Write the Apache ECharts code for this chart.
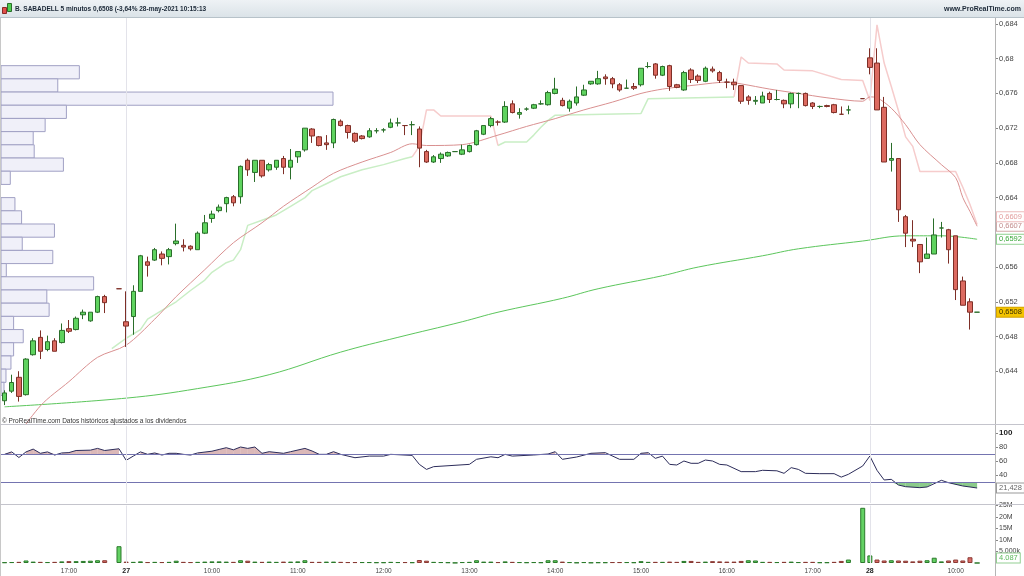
<!DOCTYPE html>
<html><head><meta charset="utf-8">
<script src="https://cdn.jsdelivr.net/npm/echarts@6/dist/echarts.min.js"></script>
<style>html,body{margin:0;padding:0;background:#fff}#c{width:1024px;height:576px}</style>
</head><body><div id="c"></div>
<script>
// ---------- DATA ----------
// bars: [open, high, low, close]; null = no trade in that 5-min bar
const day26Bars = [
[0.6406,0.6418,0.6401,0.6415],[0.6417,0.6436,0.6415,0.6427],[0.6433,0.6440,0.6405,0.6411],[0.6413,0.6455,0.6412,0.6454],
[0.6459,0.6478,0.6458,0.6475],[0.6479,0.6487,0.6454,0.6463],[0.6465,0.6481,0.6463,0.6474],[0.6475,0.6478,0.6463,0.6463],
[0.6473,0.6495,0.6472,0.6487],[0.6489,0.6499,0.6484,0.6486],[0.6488,0.6503,0.6487,0.6501],[0.6505,0.6511,0.6500,0.6508],
[0.6498,0.6508,0.6497,0.6508],[0.6508,0.6527,0.6507,0.6526],[0.6526,0.6528,0.6507,0.6519],null,[0.6535,0.6535,0.6535,0.6535]
];
const day27Bars = [
[0.6497,0.6532,0.6468,0.6492],[0.6503,0.6539,0.6482,0.6532],[0.6532,0.6574,0.6532,0.6573],[0.6566,0.6572,0.6549,0.6562],
[0.6568,0.6582,0.6567,0.6580],[0.6575,0.6578,0.6562,0.6570],[0.6572,0.6582,0.6563,0.6580],[0.6587,0.6610,0.6585,0.6590],
[0.6585,0.6592,0.6578,0.6583],[0.6584,0.6585,0.6579,0.6581],[0.6580,0.6601,0.6580,0.6599],[0.6599,0.6620,0.6598,0.6611],
[0.6616,0.6625,0.6611,0.6621],[0.6625,0.6632,0.6623,0.6629],[0.6633,0.6641,0.6623,0.6640],[0.6641,0.6643,0.6630,0.6634],
[0.6641,0.6677,0.6633,0.6676],[0.6683,0.6685,0.6665,0.6672],[0.6669,0.6683,0.6658,0.6683],[0.6683,0.6683,0.6663,0.6665],
[0.6672,0.6680,0.6670,0.6678],[0.6675,0.6683,0.6672,0.6683],[0.6685,0.6688,0.6667,0.6675],[0.6675,0.6696,0.6661,0.6683],
[0.6687,0.6693,0.6680,0.6693],[0.6695,0.6720,0.6693,0.6720],[0.6719,0.6720,0.6703,0.6711],[0.6710,0.6711,0.6699,0.6700],
[0.6703,0.6712,0.6695,0.6701],[0.6703,0.6731,0.6697,0.6730],[0.6728,0.6730,0.6722,0.6723],[0.6723,0.6724,0.6708,0.6715],
[0.6714,0.6715,0.6703,0.6705],[0.6711,0.6712,0.6707,0.6708],[0.6710,0.6720,0.6709,0.6717],[0.6717,0.6720,0.6714,0.6717],
[0.6718,0.6720,0.6715,0.6718],[0.6721,0.6731,0.6720,0.6726],[0.6726,0.6732,0.6722,0.6726],[0.6723,0.6723,0.6712,0.6723],
[0.6724,0.6728,0.6712,0.6724],[0.6719,0.6722,0.6675,0.6697],[0.6693,0.6695,0.6680,0.6681],[0.6681,0.6689,0.6680,0.6687],
[0.6685,0.6692,0.6680,0.6690],[0.6688,0.6693,0.6687,0.6692],[0.6693,0.6693,0.6693,0.6693],[0.6690,0.6701,0.6689,0.6695],
[0.6693,0.6701,0.6692,0.6700],[0.6701,0.6718,0.6700,0.6717],[0.6713,0.6723,0.6712,0.6723],[0.6723,0.6733,0.6721,0.6731],
[0.6727,0.6729,0.6723,0.6727],[0.6727,0.6751,0.6726,0.6745],[0.6748,0.6752,0.6737,0.6738],[0.6736,0.6743,0.6731,0.6738],
[0.6742,0.6744,0.6740,0.6742],[0.6743,0.6748,0.6742,0.6747],[0.6748,0.6752,0.6747,0.6748],[0.6747,0.6763,0.6746,0.6761],
[0.6760,0.6778,0.6759,0.6765],[0.6752,0.6755,0.6745,0.6746],[0.6743,0.6753,0.6739,0.6751],[0.6749,0.6768,0.6746,0.6756],
[0.6758,0.6770,0.6757,0.6764],[0.6771,0.6774,0.6770,0.6774],[0.6771,0.6786,0.6770,0.6777],[0.6779,0.6782,0.6770,0.6777],
[0.6777,0.6779,0.6766,0.6771],[0.6770,0.6772,0.6762,0.6764],[0.6766,0.6776,0.6766,0.6766],[0.6768,0.6772,0.6764,0.6766],
[0.6770,0.6789,0.6768,0.6789],[0.6791,0.6796,0.6789,0.6791],[0.6794,0.6795,0.6777,0.6781],[0.6781,0.6792,0.6780,0.6791],
[0.6792,0.6793,0.6763,0.6768],[0.6770,0.6771,0.6766,0.6767],[0.6764,0.6786,0.6763,0.6784],[0.6787,0.6789,0.6772,0.6776],
[0.6780,0.6782,0.6772,0.6775],[0.6774,0.6791,0.6773,0.6789],[0.6788,0.6791,0.6784,0.6786],[0.6784,0.6786,0.6772,0.6775],
[0.6773,0.6777,0.6766,0.6773],[0.6773,0.6777,0.6764,0.6770],[0.6769,0.6769,0.6748,0.6751],[0.6756,0.6758,0.6747,0.6752],
[0.6751,0.6757,0.6747,0.6752],[0.6749,0.6762,0.6749,0.6757],[0.6760,0.6762,0.6749,0.6753],[0.6753,0.6764,0.6752,0.6753],
[0.6752,0.6753,0.6743,0.6748],[0.6748,0.6761,0.6743,0.6760],[0.6760,0.6761,0.6743,0.6760],[0.6760,0.6761,0.6745,0.6746],
[0.6749,0.6750,0.6742,0.6745],[0.6745,0.6746,0.6743,0.6745],[0.6746,0.6747,0.6744,0.6745],[0.6747,0.6748,0.6737,0.6738],
[0.6736,0.6745,0.6736,0.6736],[0.6741,0.6746,0.6736,0.6741],null,[0.6754,0.6754,0.6754,0.6754]
];
const day28Bars = [
[0.6801,0.6812,0.6782,0.6790],[0.6795,0.6812,0.6741,0.6741],[0.6744,0.6756,0.6681,0.6681],[0.6683,0.6703,0.6670,0.6685],
[0.6685,0.6685,0.6612,0.6626],[0.6618,0.6620,0.6583,0.6599],[0.6592,0.6614,0.6583,0.6590],[0.6586,0.6586,0.6553,0.6566],
[0.6570,0.6594,0.6570,0.6575],[0.6575,0.6616,0.6575,0.6597],[0.6605,0.6612,0.6594,0.6605],[0.6603,0.6604,0.6564,0.6580],
[0.6596,0.6596,0.6522,0.6534],[0.6544,0.6549,0.6516,0.6516],[0.6520,0.6524,0.6488,0.6508],[0.6508,0.6508,0.6508,0.6508]
];
// volumes (shares)
const day26Vol = [300e3,400e3,500e3,1100e3,600e3,500e3,400e3,500e3,700e3,800e3,800e3,900e3,1000e3,1200e3,1200e3,0,7300e3];
const day27Vol = [
600e3,500e3,700e3,400e3,500e3,400e3,500e3,1000e3,500e3,400e3,
500e3,600e3,700e3,700e3,600e3,500e3,1200e3,1000e3,600e3,500e3,
600e3,500e3,600e3,600e3,700e3,1200e3,500e3,500e3,600e3,600e3,
500e3,400e3,400e3,400e3,400e3,300e3,300e3,500e3,400e3,400e3,
300e3,1300e3,1000e3,500e3,400e3,300e3,100e3,400e3,500e3,1200e3,
600e3,600e3,400e3,700e3,500e3,400e3,300e3,400e3,300e3,1200e3,
1200e3,600e3,400e3,200e3,400e3,200e3,300e3,300e3,400e3,400e3,
400e3,300e3,800e3,500e3,500e3,500e3,600e3,500e3,900e3,900e3,
500e3,600e3,800e3,700e3,600e3,600e3,900e3,1200e3,1100e3,500e3,
500e3,400e3,500e3,600e3,400e3,500e3,500e3,300e3,300e3,500e3,
900e3,1500e3,0,24000e3];
const day28Vol = [3300e3,1500e3,1100e3,1200e3,1100e3,1000e3,700e3,1000e3,1200e3,2300e3,700e3,1100e3,1500e3,1100e3,2500e3,4087];

// indicator lines: [bar index, value]
const maLongPts = [[0,0.6399],[17,0.6409],[27,0.6420],[37,0.6436],[47,0.6462],[55,0.6479],[64,0.6497],[69,0.6508],[78,0.6524],[83,0.6535],[92,0.6550],[97,0.6560],[106,0.6573],[111,0.6581],[120,0.6590],[126,0.6596],[131,0.6596],[136,0.6592]];
const maPts = [[0,0.6345],[5,0.6400],[9,0.6428],[13,0.6456],[17,0.6470],[21,0.6500],[24,0.6526],[28,0.6557],[32,0.6588],[36,0.6611],[39,0.6630],[43,0.6652],[46,0.6668],[50,0.6681],[54,0.6692],[57,0.6702],[59,0.6700],[64,0.6701],[69,0.6712],[73,0.6722],[77,0.6731],[81,0.6741],[85,0.6750],[89,0.6760],[92,0.6765],[97,0.6770],[101,0.6773],[103,0.6771],[107,0.6765],[111,0.6760],[115,0.6755],[120,0.6751],[121,0.6756],[122,0.6755],[124,0.6743],[126,0.6724],[128,0.6701],[131,0.6678],[133,0.6663],[134,0.6640],[135,0.6624],[136,0.6607]];
const stopUpPts1 = [[15,0.6466],[16,0.6472],[17,0.6478],[19,0.6488],[20,0.6500],[22,0.6510],[24,0.6520],[26,0.6533],[28,0.6545],[29,0.6554],[31,0.6565],[32,0.6568],[33,0.6580],[34,0.6608],[36,0.6614],[38,0.6620],[40,0.6630],[42,0.6640],[43,0.6648],[45,0.6656],[47,0.6664],[50,0.6672],[53,0.6678],[56,0.6685],[57,0.6687]];
const stopUpPts2 = [[69,0.6700],[70,0.6704],[73,0.6704],[74,0.6712],[75,0.6721],[76,0.6729],[77,0.6735],[89,0.6737],[90,0.6754],[102,0.6756]];
const stopDownPts1 = [[57,0.6687],[58,0.6699],[59,0.6741],[60,0.6741],[61,0.6734],[68,0.6734],[69,0.6700]];
const stopDownPts2 = [[102,0.6756],[103,0.6802],[104,0.6795],[108,0.6794],[109,0.6787],[113,0.6786],[117,0.6776],[120,0.6775],[121,0.6752],[122,0.6839],[123,0.6795],[124,0.6768],[125,0.6740],[126,0.6710],[127,0.6699],[128,0.6670],[133,0.6670],[134,0.6652],[135,0.6632],[136,0.6609]];
const rsiPts = [[0,69.5],[1,73],[2,65],[3,73],[4,77],[5,71],[6,73],[7,68.5],[8,71.5],[9,72],[10,75],[12,75.5],[13,78],[14,75],[16,77.5],[17,61],[18,67],[19,73],[20,69.5],[21,71.5],[22,68.5],[23,71],[24,71],[25,69.5],[26,68.5],[27,71.5],[29,74],[30,76.5],[31,79],[32,76],[33,80],[34,78],[35,80],[36,71],[37,73.3],[39,71],[40,73.3],[42,78],[43,74.3],[44,69.5],[45,69.5],[46,73.3],[47,69.5],[49,64.7],[51,67],[53,67],[54,69.5],[57,68],[58,55.2],[59,48],[60,51.9],[65,55.2],[66,62.4],[68,66],[69,64.7],[70,69.5],[71,67],[74,68.6],[76,70],[77,73.3],[78,62.4],[80,65.7],[82,71],[84,71.9],[86,62.4],[88,62.4],[89,71],[90,71.9],[91,63.8],[92,67],[93,55.2],[94,54.3],[95,60],[96,56.7],[97,56.7],[98,61.4],[99,60],[100,55.2],[101,54.3],[103,44.8],[105,44.8],[106,46.7],[108,46],[109,42.4],[110,50.5],[111,48],[112,42.4],[114,41.9],[116,41.9],[117,37],[118,41],[120,52.9],[121,67.1],[122,46.7],[123,32.9],[124,33.8],[125,25.7],[126,23.3],[128,21.9],[129,22.9],[131,32.4],[132,29],[134,24.3],[135,22.9],[136,21.428]];
// volume profile (relative volume per price band, top band first)
const profileTop = 0.6792, profileStep = 0.00152;
const profileVol = [23.6,17.1,100,19.7,13.3,9.7,10.0,18.8,2.8,0,4.2,6.2,16.1,6.4,15.6,1.6,27.9,13.8,14.5,3.8,6.7,3.8,3.0,1.5,0.9];
// axis ticks
const priceTicks = [0.644,0.648,0.652,0.656,0.664,0.668,0.672,0.676,0.680,0.684];
const rsiTicks = [40,60,80,100];
const rsiLevels = [70,30];
const volTicks = [5e6,10e6,15e6,20e6,25e6];
const title = 'B. SABADELL 5 minutos 0,6508 (-3,64% 28-may-2021 10:15:13';
const siteText = 'www.ProRealTime.com';
const footText = '\u00A9 ProRealTime.com Datos hist\u00f3ricos ajustados a los dividendos';

// ---------- BUILD ----------
function session(day,h0,m0,h1,m1){const o=[];for(let t=h0*60+m0;t<=h1*60+m1;t+=5){o.push(day+'|'+String(Math.floor(t/60)).padStart(2,'0')+':'+String(t%60).padStart(2,'0'));}return o;}
const cats = [...session('26',16,15,17,35),...session('27',9,0,17,35),...session('28',9,0,10,15),'pad1','pad2'];
const bars = [...day26Bars,...day27Bars,...day28Bars];
const vols = [...day26Vol,...day27Vol,...day28Vol];
const candleData = bars.map(b=>b?[b[0],b[3],b[2],b[1]]:['-','-','-','-']);
let prevC = null;
const volData = vols.map((v,i)=>{
  const b = bars[i];
  if(!b || !v){return '-';}
  const ref = prevC==null?b[0]:prevC; const up = b[3]>=ref; prevC=b[3];
  return {value:v,itemStyle:up?{color:'#63d163',borderColor:'#2b7a2b'}:{color:'#d96b66',borderColor:'#8a3a34'}};
});
const profData = profileVol.map((v,k)=>[v,profileTop-k*profileStep,profileTop-(k+1)*profileStep]);
const dayStarts = cats.filter(c=>c.endsWith('|09:00'));
const rsiSegData = rsiPts.slice(0,-1).map((p,k)=>[p[0],50,k]);

const FONT='Liberation Sans, Arial, sans-serif';
const fmtPrice = v=>{let s=v.toFixed(3).replace(/0+$/,'');return s.replace('.',',');};
const fmtPrice4 = v=>v.toFixed(4).replace('.',',');
const gridL=1, gridR=29;
const chart = echarts.init(document.getElementById('c'),null,{renderer:'canvas'});
const sepStyle = {color:'#e3e3ea',width:1,type:'solid'};
const sepLine = {silent:true,symbol:'none',label:{show:false},lineStyle:sepStyle,data:dayStarts.map(c=>({xAxis:c}))};
const catAxis = (gi,showLabels)=>({type:'category',gridIndex:gi,data:cats,boundaryGap:true,axisLine:{show:false,onZero:false},axisTick:{show:false},splitLine:{show:false},
  axisLabel:showLabels?{show:true,margin:5,fontSize:6.5,color:'#444',fontFamily:FONT,
    interval:(i,val)=>val.indexOf('|')>0 && val.endsWith(':00'),
    formatter:val=>{const p=val.split('|');if(p.length<2)return '';return p[1]==='09:00'?'{b|'+p[0]+'}':p[1];},
    rich:{b:{fontWeight:'bold',fontSize:7,color:'#222',fontFamily:FONT}}}:{show:false}});
const yAx = (gi,min,max,ticks,label)=>({type:'value',gridIndex:gi,min:min,max:max,position:'right',
  axisLine:{show:false,onZero:false},splitLine:{show:false},
  axisLabel:Object.assign({customValues:ticks,fontSize:7.5,color:'#444',margin:4,fontFamily:FONT},label),
  axisTick:{show:true,customValues:ticks,length:3,lineStyle:{color:'#888'}}});

function segFill(a,b,lvl,dir){
  const da=(a[1]-lvl)*dir, db=(b[1]-lvl)*dir;
  if(da<=0&&db<=0) return null;
  if(da>=0&&db>=0) return [[a[0],lvl],[a[0],a[1]],[b[0],b[1]],[b[0],lvl]];
  const t=da/(da-db), xc=a[0]+t*(b[0]-a[0]);
  return da>0?[[a[0],lvl],[a[0],a[1]],[xc,lvl]]:[[xc,lvl],[b[0],b[1]],[b[0],lvl]];
}

chart.setOption({
  animation:false,
  backgroundColor:'#fff',
  grid:[
    {left:gridL,right:gridR,top:18,height:406},
    {left:gridL,right:gridR,top:426,height:77},
    {left:gridL,right:gridR,top:505.5,height:57.5}
  ],
  xAxis:[
    catAxis(0,false),
    {type:'value',gridIndex:0,min:0,max:100*994/332,show:false,axisLine:{onZero:false}},
    catAxis(1,false),
    catAxis(2,true)
  ],
  yAxis:[
    yAx(0,0.63792,0.68469,priceTicks,{formatter:fmtPrice}),
    yAx(1,0,110,rsiTicks,{formatter:v=>v===100?'{b|100}':String(v),rich:{b:{fontWeight:'bold',fontSize:8,color:'#222',fontFamily:FONT}}}),
    yAx(2,0,25e6,volTicks,{fontSize:7,formatter:v=>v===5e6?'5.000k':(v/1e6)+'M'})
  ],
  series:[
    {type:'custom',name:'profile',xAxisIndex:1,yAxisIndex:0,z:1,data:profData,encode:{x:0,y:[1,2]},silent:true,
      renderItem:(params,api)=>{const v=api.value(0);if(!v)return null;const a=api.coord([0,api.value(1)]),b=api.coord([v,api.value(2)]);
        return {type:'rect',shape:{x:a[0],y:a[1],width:b[0]-a[0],height:b[1]-a[1]},style:{fill:'#f0f0f9',stroke:'#a0a0c4',lineWidth:1}};}},
    {type:'line',name:'maLong',xAxisIndex:0,yAxisIndex:0,z:2,data:maLongPts,smooth:0.4,symbol:'none',lineStyle:{color:'#5cc65c',width:1},markLine:sepLine},
    {type:'line',name:'stopUp1',xAxisIndex:0,yAxisIndex:0,z:2,data:stopUpPts1,symbol:'none',lineStyle:{color:'#c9eec5',width:1.5}},
    {type:'line',name:'stopUp2',xAxisIndex:0,yAxisIndex:0,z:2,data:stopUpPts2,symbol:'none',lineStyle:{color:'#c9eec5',width:1.5}},
    {type:'line',name:'stopDn1',xAxisIndex:0,yAxisIndex:0,z:2,data:stopDownPts1,symbol:'none',lineStyle:{color:'#f6cccc',width:1.5}},
    {type:'line',name:'stopDn2',xAxisIndex:0,yAxisIndex:0,z:2,data:stopDownPts2,symbol:'none',lineStyle:{color:'#f6cccc',width:1.5}},
    {type:'line',name:'ma',xAxisIndex:0,yAxisIndex:0,z:3,data:maPts,smooth:0.3,symbol:'none',lineStyle:{color:'#d99090',width:1}},
    {type:'custom',name:'rsiFill',xAxisIndex:2,yAxisIndex:1,z:2,silent:true,data:rsiSegData,encode:{x:0,y:1},
      renderItem:(params,api)=>{
        const k=api.value(2), a=rsiPts[k], b=rsiPts[k+1];
        const children=[];
        const up=segFill(a,b,rsiLevels[0],1), dn=segFill(a,b,rsiLevels[1],-1);
        if(up) children.push({type:'polygon',shape:{points:up.map(p=>api.coord(p))},style:{fill:'rgba(190,125,125,0.55)'}});
        if(dn) children.push({type:'polygon',shape:{points:dn.map(p=>api.coord(p))},style:{fill:'rgba(100,185,100,0.75)'}});
        return {type:'group',children};
      }},
    {type:'line',name:'rsi',xAxisIndex:2,yAxisIndex:1,z:4,data:rsiPts,symbol:'none',lineStyle:{color:'#2c2c5a',width:1},
      markLine:{silent:true,symbol:'none',label:{show:false},
        data:rsiLevels.map(v=>({yAxis:v,lineStyle:{color:'#7474b0',width:1.2,type:'solid'}})).concat(dayStarts.map(c=>({xAxis:c,lineStyle:sepStyle})))}},
    {type:'bar',name:'vol',xAxisIndex:3,yAxisIndex:2,z:3,data:volData,barWidth:5,itemStyle:{borderWidth:1},markLine:sepLine},
    {type:'candlestick',name:'price',xAxisIndex:0,yAxisIndex:0,z:5,data:candleData,barWidth:5,
      itemStyle:{color:'#5fd35f',color0:'#dc6a60',borderColor:'#2a6e2a',borderColor0:'#7e2f27',borderWidth:1}}
  ]
});

// ---------- overlays ----------
const Y0 = v=>chart.convertToPixel({yAxisIndex:0},v);
const lastOf = a=>a[a.length-1][1];
const tags = [
  {v:lastOf(stopDownPts2),color:'#e29c9c',border:'#ecbcbc'},
  {v:lastOf(maPts),color:'#c38e8e',border:'#d2aaaa'},
  {v:lastOf(maLongPts),color:'#3aa83a',border:'#92d292'}
].map(t=>Object.assign(t,{y:Y0(t.v)})).sort((a,b)=>b.y-a.y);
for(let k=1;k<tags.length;k++){tags[k].y=Math.min(tags[k].y,tags[k-1].y-9.5);}
const lastBar = bars[bars.length-1];
const tagText = (txt,y,fill,border,bg)=>({type:'text',z:100,x:997,y:y,style:{text:txt,fill:fill,font:'7.5px '+FONT,verticalAlign:'middle',
  backgroundColor:bg||'#fff',borderColor:border,borderWidth:1,padding:[1,2,0,2]}});
const g = [];
g.push({type:'rect',z:50,shape:{x:0,y:0,width:1024,height:17},style:{fill:new echarts.graphic.LinearGradient(0,0,0,1,[{offset:0,color:'#eef2f5'},{offset:1,color:'#dbe3e8'}])}});
g.push({type:'line',z:51,shape:{x1:0,y1:17.5,x2:1024,y2:17.5},style:{stroke:'#b7c2c9',lineWidth:1}});
g.push({type:'rect',z:52,shape:{x:2.5,y:7.5,width:4,height:6},style:{fill:'#e0504a',stroke:'#8a2a26',lineWidth:1}});
g.push({type:'rect',z:52,shape:{x:7.5,y:3.5,width:4,height:8},style:{fill:'#4fcf4f',stroke:'#2a6e2a',lineWidth:1}});
g.push({type:'text',z:52,x:15,y:9,style:{text:title,fill:'#1a2736',font:'bold 6.5px '+FONT,verticalAlign:'middle'}});
g.push({type:'text',z:52,x:1021,y:9,style:{text:siteText,fill:'#1a2736',font:'bold 7px '+FONT,verticalAlign:'middle',align:'right'}});
g.push({type:'line',z:40,shape:{x1:995.5,y1:18,x2:995.5,y2:576},style:{stroke:'#b5b5b5',lineWidth:1}});
g.push({type:'line',z:40,shape:{x1:0.5,y1:18,x2:0.5,y2:576},style:{stroke:'#c8c8c8',lineWidth:1}});
g.push({type:'line',z:40,shape:{x1:0,y1:424.5,x2:1024,y2:424.5},style:{stroke:'#c4c4cc',lineWidth:1}});
g.push({type:'line',z:40,shape:{x1:0,y1:504.5,x2:1024,y2:504.5},style:{stroke:'#c4c4cc',lineWidth:1}});
g.push({type:'text',z:45,x:2,y:421,style:{text:footText,fill:'#333',font:'6.5px '+FONT,verticalAlign:'middle'}});
tags.forEach(t=>g.push(tagText(fmtPrice4(t.v),t.y,t.color,t.border)));
g.push(tagText(fmtPrice4(lastBar[3]),Y0(lastBar[3]),'#3a2f00','#d3a300','#f4c400'));
const rsiLast = lastOf(rsiPts);
g.push(tagText(rsiLast.toFixed(3).replace('.',','),chart.convertToPixel({yAxisIndex:1},rsiLast),'#666','#9a9a9a'));
const volLast = vols[vols.length-1];
g.push(tagText(volLast.toLocaleString('de-DE'),Math.min(chart.convertToPixel({yAxisIndex:2},volLast),558),'#5cb85c','#93d093'));
chart.setOption({graphic:g});
</script></body></html>
